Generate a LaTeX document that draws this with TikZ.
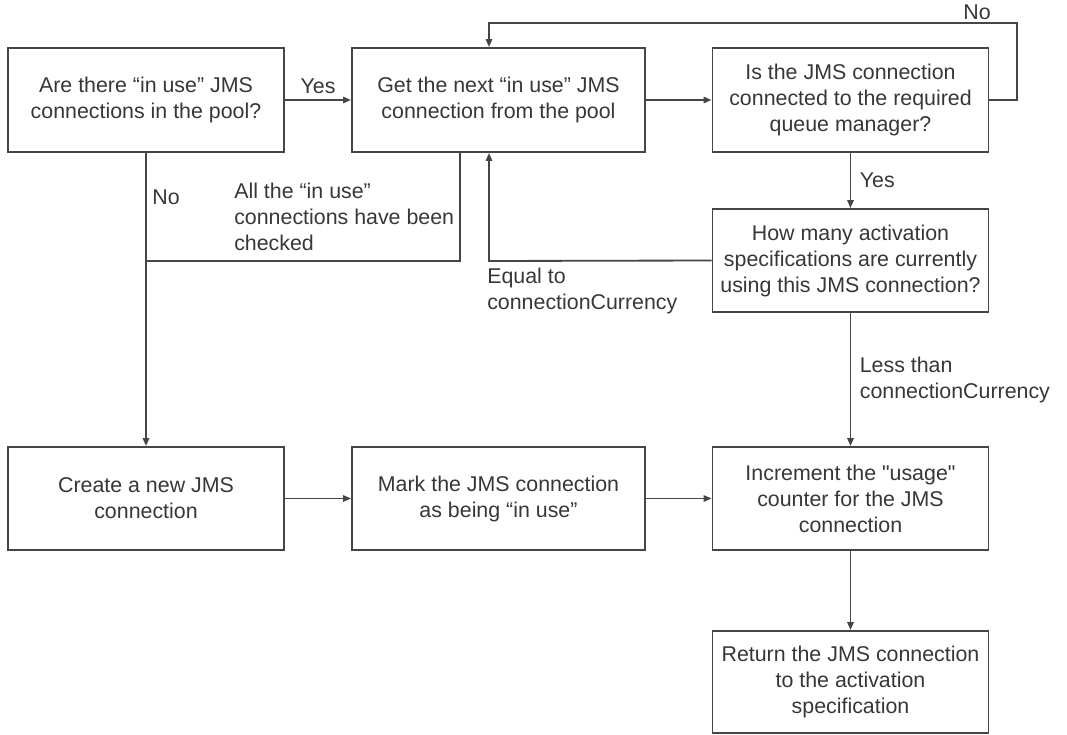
\documentclass[tikz,border=0pt]{standalone}
\usepackage{fontspec}
\setmainfont{Liberation Sans}
\usetikzlibrary{arrows.meta, positioning, calc}
\definecolor{linegray}{RGB}{70,70,70}
\definecolor{textgray}{RGB}{55,55,55}
\tikzset{
  stepbox/.style={rectangle, draw=linegray, line width=1.3pt, fill=white, align=center, text=textgray,
    font=\fontsize{15.2}{18.5}\selectfont, minimum width=6.9cm, minimum height=2.6cm, inner sep=0pt},
  arrow/.style={-{Triangle[length=0.2cm,width=0.16cm]}, line width=1.3pt, color=linegray},
  plainline/.style={line width=1.3pt, color=linegray},
  lbl/.style={text=textgray, font=\fontsize{15.2}{18.5}\selectfont, align=left, inner sep=0pt}
}
\begin{document}
\begin{tikzpicture}[x=0.025cm, y=-0.025cm]
  \useasboundingbox (0,0) rectangle (1067,735);
  % boxes
  \node[stepbox] (ask) at (146,100) {Are there “in use” JMS\\connections in the pool?};
  \node[stepbox,minimum width=7.325cm] (getnext) at (498.5,100) {Get the next “in use” JMS\\connection from the pool};
  \node[stepbox] (check) at (850.5,100) {Is the JMS connection\\connected to the required\\queue manager?};
  \node[stepbox,minimum height=2.575cm] (howmany) at (850.5,260.5) {How many activation\\specifications are currently\\using this JMS connection?};
  \node[stepbox,minimum height=2.575cm] (create) at (146,498.5) {Create a new JMS\\connection};
  \node[stepbox,minimum width=7.325cm,minimum height=2.575cm] (mark) at (498.5,498.5) {Mark the JMS connection\\as being “in use”};
  \node[stepbox,minimum height=2.575cm] (incr) at (850.5,498.5) {Increment the \textquotedbl usage\textquotedbl\\counter for the JMS\\connection};
  \node[stepbox,minimum height=2.55cm] (ret) at (850.5,682) {Return the JMS connection\\to the activation\\specification};
  % helper points
  \coordinate (loopa) at (1017,23);
  \coordinate (loopb) at (489,23);
  \coordinate (eqc) at (489,261);
  \coordinate (allc) at (460,261);
  % connectors
  \draw[arrow] (ask) -- node[lbl,above=4pt] {Yes} (getnext);
  \draw[arrow] (getnext) -- (check);
  \draw[arrow] (check.east) -| (loopa) -- (loopb) -- (loopb |- getnext.north);
  \draw[arrow] (check) -- node[lbl,right=6pt] {Yes} (howmany);
  \draw[arrow] (howmany.west) -- (eqc) -- (eqc |- getnext.south);
  \draw[plainline] (allc |- getnext.south) -- (allc) -- (allc -| ask.south);
  \draw[arrow] (ask) -- (create);
  \draw[arrow] (create) -- (mark);
  \draw[arrow] (mark) -- (incr);
  \draw[arrow] (howmany) -- node[lbl,right=6pt] {Less than\\connectionCurrency} (incr);
  \draw[arrow] (incr) -- (ret);
  % labels
  \node[lbl] (nocheck) at (977,12) {No};
  \node[lbl] (nonew) at (166,197) {No};
  \node[lbl,anchor=north west] (allchecked) at (234,183) {All the “in use”\\connections have been\\checked};
  \node[lbl,anchor=north west] (equal) at (487,268) {Equal to\\connectionCurrency};
\end{tikzpicture}
\end{document}
